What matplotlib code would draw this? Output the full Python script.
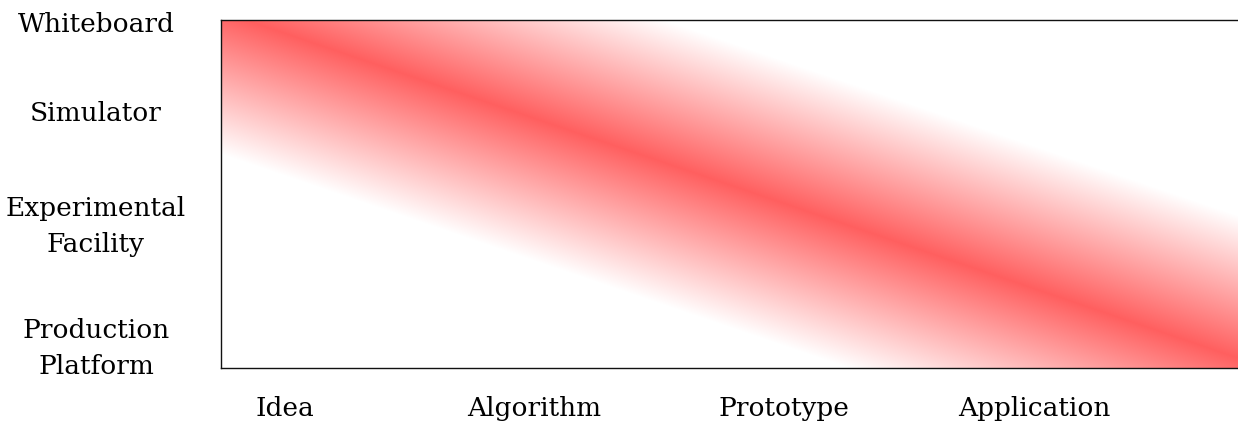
import numpy as np
import matplotlib
matplotlib.use("Agg")
from matplotlib import pyplot as plt

# tick labels and positions (data units, axes span 0..4 both ways)
stages = ["Idea", "Algorithm", "Prototype", "Application"]
stage_pos = [0.25, 1.23, 2.21, 3.19]
platforms = ["Whiteboard", "Simulator", "Experimental\nFacility", "Production\nPlatform"]
platform_pos = [3.98, 2.95, 1.72, 0.32]

# centre line of the red band and its vertical half width
band_x = [0.0, 4.0]
band_y = [4.1, 0.1]
band_halfwidth = 1.65
band_peak_alpha = 0.63

plt.rcParams['font.family'] = ['DejaVu Serif']

fig = plt.figure(figsize=(12.38, 4.21), dpi=100)
ax = fig.add_axes([221 / 1238, 1 - 368 / 421, 1.002 - 221 / 1238, 348 / 421])

xs = np.linspace(0, 4, 1000)
ys = np.linspace(0, 4, 400)
xx, yy = np.meshgrid(xs, ys)
slope = (band_y[1] - band_y[0]) / (band_x[1] - band_x[0])
centre = band_y[0] + slope * (xx - band_x[0])
d = np.abs(yy - centre)
alpha = np.clip(1 - d / band_halfwidth, 0, 1) * band_peak_alpha
rgba = np.zeros(xx.shape + (4,))
rgba[..., 0] = 1.0
rgba[..., 3] = alpha
ax.imshow(rgba, extent=[0, 4, 0, 4], origin='lower', aspect='auto',
          interpolation='bilinear')

ax.set_xlim(0, 4)
ax.set_ylim(0, 4)
ax.set_xticks(stage_pos)
ax.set_xticklabels(stages, fontsize=19)
ax.set_yticks(platform_pos)
ax.set_yticklabels(platforms, fontsize=19, linespacing=1.55)
for t in ax.get_yticklabels():
    t.set_horizontalalignment('center')
    t.set_multialignment('center')
ax.tick_params(axis='both', length=0)
ax.tick_params(axis='y', pad=90)
ax.tick_params(axis='x', pad=20)
for s in ax.spines.values():
    s.set_linewidth(1.0)
    s.set_color('#111111')

fig.savefig("out.png", dpi=100)
